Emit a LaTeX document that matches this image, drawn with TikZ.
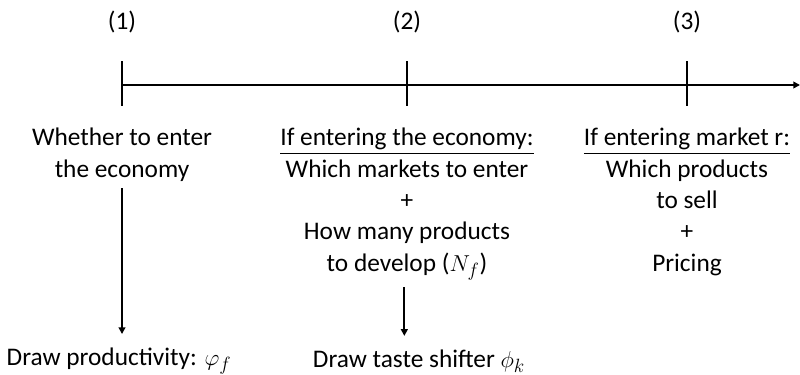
\documentclass[tikz,border=0pt]{standalone}
\usepackage{amsmath}
\usepackage{amssymb}
\usepackage{fontspec}
\setmainfont{Carlito}
\usetikzlibrary{arrows.meta}
\tikzset{
	stage/.style={font=\fontsize{19}{23.5}\selectfont, align=center, inner sep=0pt, anchor=north},
	draws/.style={font=\fontsize{19}{23.5}\selectfont, inner sep=0pt},
	timearrow/.style={line width=1.5pt, -{Triangle[length=5pt,width=5pt]}}
}

\begin{document}
\begin{tikzpicture}[x=0.75pt, y=-0.75pt]
				\useasboundingbox (0,0) rectangle (800,375);
				\coordinate (start) at (122,85);
				\coordinate (end) at (800,85);
				\draw[timearrow] (start) -- (end);
				\foreach \i/\x in {1/122, 2/407, 3/687} {
					\draw[line width=1.5pt] (\x,61) -- (\x,106);
					\node[draws] (lab\i) at (\x,22) {(\i)};
				}
				\node[stage] (choice1) at (122,128) {Whether to enter\\the economy};
				\node[stage] (choice2) at (407,128) {\underline{If entering the economy:}\\Which markets to enter\\+\\How many products\\to develop ($N_f$)};
				\node[stage] (choice3) at (687,128) {\underline{If entering market r:}\\Which products\\to sell\\+\\Pricing};
				\node[draws] (draw1) at (119,361) {Draw productivity: $\varphi_f$};
				\node[draws] (draw2) at (419,361) {Draw taste shifter $\phi_k$};
				\draw[timearrow] ([yshift=-5]choice1.south) -- ([yshift=10]choice1.south |- draw1.north);
				\draw[timearrow] ([xshift=-2,yshift=-5]choice2.south) -- ([xshift=-2,yshift=10]choice2.south |- draw2.north);
			\end{tikzpicture}
\end{document}
